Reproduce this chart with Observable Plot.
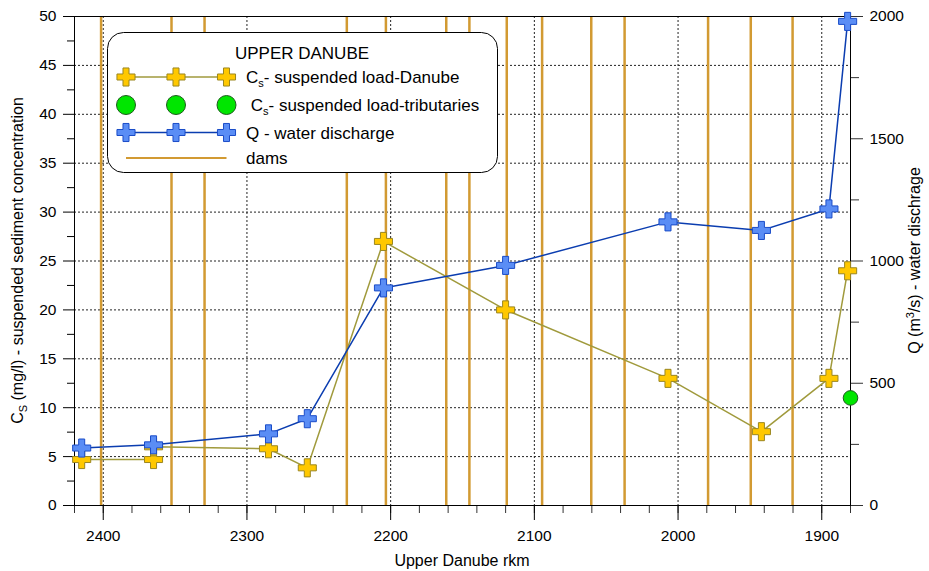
<!DOCTYPE html>
<html>
<head>
<meta charset="utf-8">
<script src="https://cdn.jsdelivr.net/npm/d3@7"></script>
<script src="https://cdn.jsdelivr.net/npm/@observablehq/plot@0.6"></script>
<style>
  html, body { margin: 0; padding: 0; background: #fff; }
  svg { font-family: "Liberation Sans", Arial, sans-serif; display: block; }
</style>
</head>
<body>
<div id="chart"></div>
<script>
// ---- data ----
const danubeRkm = [2415, 2365, 2365, 2285, 2258, 2205, 2120, 2007, 1942, 1895, 1882];
const danubeCs  = [4.7, 4.7, 6.0, 5.8, 3.85, 27.0, 20.0, 13.0, 7.55, 13.0, 24.0];

const qRkm = [2415, 2365, 2285, 2258, 2205, 2120, 2007, 1942, 1895, 1882];
const qVal = [235, 248, 293, 355, 890, 982, 1160, 1125, 1213, 1980];

const tribRkm = [1880];
const tribCs  = [11.0];

const dams = [2401.5, 2352.5, 2329.5, 2230.5, 2203.3, 2161.3, 2145.2, 2119.2, 2094.6, 2060.4, 2037.2, 1979.1, 1949.4, 1920.3];

const xMajor = [2400, 2300, 2200, 2100, 2000, 1900];
const xMinor = d3.range(2420, 1879, -20);
const yLeftMajor = [0, 5, 10, 15, 20, 25, 30, 35, 40, 45, 50];
const yLeftMinor = d3.range(2.5, 50, 5);
const yGrid = [5, 10, 15, 20, 25, 30, 35, 40, 45];
const qMajor = [0, 500, 1000, 1500, 2000];
const qMinor = [250, 750, 1250, 1750];

const Q_MAX = 2000, CS_MAX = 50;
const qToY = q => q * CS_MAX / Q_MAX;

const danube = danubeRkm.map((x, i) => ({x, y: danubeCs[i]}));
const qData = qRkm.map((x, i) => ({x, y: qToY(qVal[i]), q: qVal[i]}));
const trib = tribRkm.map((x, i) => ({x, y: tribCs[i]}));

// colors
const C = {
  yellow: "#FFC800", yellowStroke: "#9A8620", danubeLine: "#A09A3C",
  blue: "#5A8DF5", blueStroke: "#1A4CC8", qLine: "#0B3DB0",
  green: "#00E600", greenStroke: "#1E5A1E", dam: "#D29A32"
};

const W = 929, H = 571;
const mL = 74, mR = 79, mT = 16, mB = 66;
const FS = 15.5;

const plot = Plot.plot({
  width: W, height: H,
  marginLeft: mL, marginRight: mR, marginTop: mT, marginBottom: mB,
  style: {fontFamily: '"Liberation Sans", Arial, sans-serif', fontSize: FS + "px", color: "#000", background: "#fff"},
  x: {domain: [2420, 1880]},
  y: {domain: [0, 50]},
  marks: [
    Plot.ruleY(yGrid, {stroke: "#222", strokeDasharray: "2,2", strokeWidth: 1}),
    Plot.ruleX(xMajor, {stroke: "#222", strokeDasharray: "2,2", strokeWidth: 1}),
    Plot.ruleX(dams, {stroke: C.dam, strokeWidth: 2.5}),
    // bottom axis
    Plot.axisX(xMinor, {tickSize: 8, tickFormat: () => "", label: null, stroke: "#333"}),
    Plot.axisX(xMajor, {tickSize: 15, tickPadding: 9, tickFormat: d => String(d), label: null, fontSize: FS, stroke: "#000"}),
    // left axis
    Plot.axisY(yLeftMinor, {anchor: "left", tickSize: 7, tickFormat: () => "", label: null}),
    Plot.axisY(yLeftMajor, {anchor: "left", tickSize: 11, tickPadding: 7, tickFormat: d => String(d), label: null, fontSize: FS}),
    // right axis (Q)
    Plot.axisY(qMinor.map(qToY), {anchor: "right", tickSize: 8, tickFormat: () => "", label: null, stroke: "#333"}),
    Plot.axisY(qMajor.map(qToY), {anchor: "right", tickSize: 12, tickPadding: 7, tickFormat: d => String(Math.round(d * Q_MAX / CS_MAX)), label: null, fontSize: FS, stroke: "#333"}),
    Plot.frame({stroke: "#000", strokeWidth: 1}),
    // series
    Plot.line(danube, {x: "x", y: "y", stroke: C.danubeLine, strokeWidth: 1.5}),
    Plot.line(qData, {x: "x", y: "y", stroke: C.qLine, strokeWidth: 1.5}),
    Plot.dot(danube, {x: "x", y: "y", symbol: "cross", r: 7.6, fill: C.yellow, stroke: C.yellowStroke, strokeWidth: 1}),
    Plot.dot(qData, {x: "x", y: "y", symbol: "cross", r: 7.6, fill: C.blue, stroke: C.blueStroke, strokeWidth: 1}),
    Plot.dot(trib, {x: "x", y: "y", r: 7.3, fill: C.green, stroke: C.greenStroke, strokeWidth: 1})
  ]
});

document.getElementById("chart").appendChild(plot);

const svg = d3.select(plot);
const font = '"Liberation Sans", Arial, sans-serif';

// axis titles
const lt = svg.append("text")
  .attr("transform", `translate(22.5, ${(mT + H - mB) / 2}) rotate(-90)`)
  .attr("text-anchor", "middle").attr("font-size", 16).attr("font-family", font).attr("fill", "#000");
lt.append("tspan").text("C");
lt.append("tspan").attr("font-size", 11).attr("dy", 4).text("S");
lt.append("tspan").attr("dy", -4).text(" (mg/l) - suspended sediment concentration");

const rt = svg.append("text")
  .attr("transform", `translate(920, ${(mT + H - mB) / 2}) rotate(-90)`)
  .attr("text-anchor", "middle").attr("font-size", 16).attr("font-family", font).attr("fill", "#000");
rt.append("tspan").text("Q (m");
rt.append("tspan").attr("font-size", 11).attr("dy", -6).text("3");
rt.append("tspan").attr("dy", 6).text("/s) - water dischrage");

svg.append("text")
  .attr("x", (mL + W - mR) / 2).attr("y", 566)
  .attr("text-anchor", "middle").attr("font-size", 16).attr("font-family", font).attr("fill", "#000")
  .text("Upper Danube rkm");

// legend
const lg = svg.append("g");
lg.append("rect").attr("x", 107.5).attr("y", 32.5).attr("width", 390).attr("height", 140)
  .attr("rx", 16).attr("ry", 16).attr("fill", "#fff").attr("stroke", "#000").attr("stroke-width", 1);
lg.append("text").attr("x", 302).attr("y", 59).attr("text-anchor", "middle")
  .attr("font-size", 17).attr("font-family", font).attr("fill", "#000").text("UPPER DANUBE");

const symX = [126, 176, 226.5];
const rows = [77, 105, 132.5, 158];
const crossPath = d3.symbol(d3.symbolCross, 7.6 * 7.6 * Math.PI)();
// row 1: Danube
lg.append("line").attr("x1", symX[0]).attr("x2", symX[2]).attr("y1", rows[0]).attr("y2", rows[0]).attr("stroke", C.danubeLine).attr("stroke-width", 1.5);
symX.forEach(x => lg.append("path").attr("d", crossPath).attr("transform", `translate(${x},${rows[0]})`).attr("fill", C.yellow).attr("stroke", C.yellowStroke));
// row 2: tributaries
symX.forEach(x => lg.append("circle").attr("cx", x).attr("cy", rows[1]).attr("r", 9.5).attr("fill", C.green).attr("stroke", C.greenStroke));
// row 3: Q
lg.append("line").attr("x1", symX[0]).attr("x2", symX[2]).attr("y1", rows[2]).attr("y2", rows[2]).attr("stroke", C.qLine).attr("stroke-width", 1.5);
symX.forEach(x => lg.append("path").attr("d", crossPath).attr("transform", `translate(${x},${rows[2]})`).attr("fill", C.blue).attr("stroke", C.blueStroke));
// row 4: dams
lg.append("line").attr("x1", symX[0]).attr("x2", symX[2]).attr("y1", rows[3]).attr("y2", rows[3]).attr("stroke", C.dam).attr("stroke-width", 2);

function legendText(x, y, parts) {
  const t = lg.append("text").attr("x", x).attr("y", y + 6).attr("text-anchor", "start")
    .attr("font-size", 17).attr("font-family", font).attr("fill", "#000");
  parts.forEach(p => {
    const s = t.append("tspan").text(p.t);
    if (p.sub) s.attr("font-size", 11).attr("dy", 4);
    if (p.back) s.attr("dy", -4);
  });
}
legendText(246, rows[0], [{t: "C"}, {t: "s", sub: true}, {t: "- suspended load-Danube", back: true}]);
legendText(246, rows[1], [{t: "\u00a0C"}, {t: "s", sub: true}, {t: "- suspended load-tributaries", back: true}]);
legendText(246, rows[2], [{t: "Q - water discharge"}]);
legendText(246, rows[3], [{t: "dams"}]);
</script>
</body>
</html>
